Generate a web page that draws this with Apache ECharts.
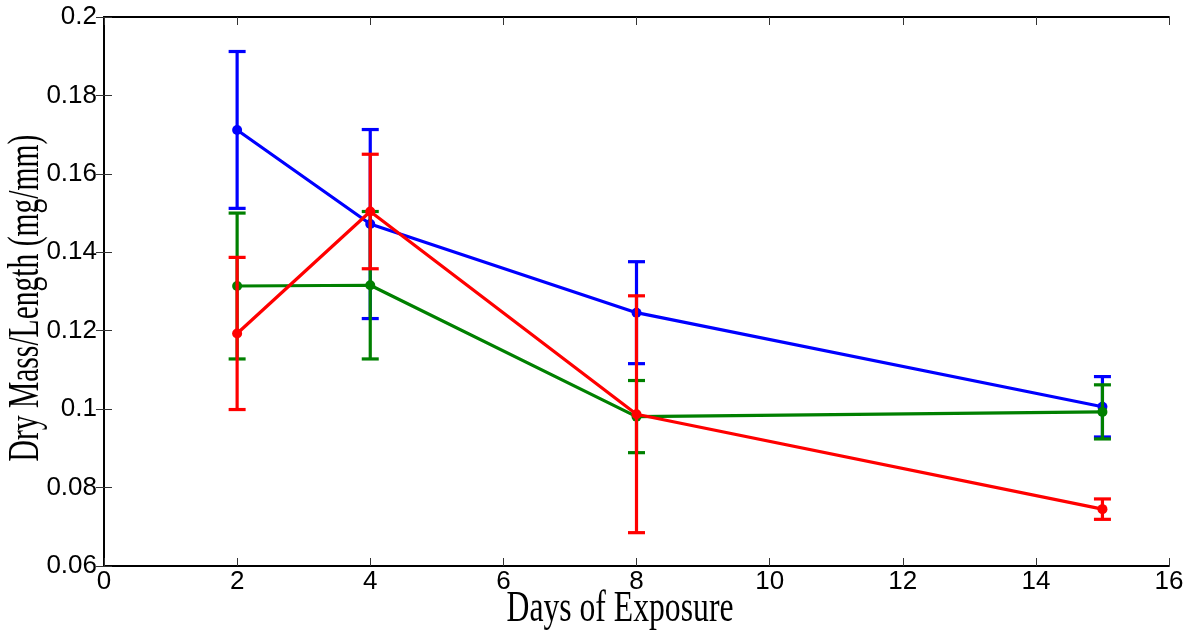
<!DOCTYPE html>
<html>
<head>
<meta charset="utf-8">
<script src="https://cdn.jsdelivr.net/npm/echarts@6/dist/echarts.min.js"></script>
<style>html,body{margin:0;padding:0;background:#fff;}#chart{width:1189px;height:633px;}</style>
</head>
<body>
<div id="chart"></div>
<script>
const days = [2, 4, 8, 15];
const blueMean = [0.1712, 0.1472, 0.1246, 0.1006];
const blueErr  = [0.0200, 0.0241, 0.0130, 0.0077];
const greenMean = [0.1314, 0.1316, 0.0981, 0.0993];
const greenErr  = [0.0186, 0.0188, 0.0092, 0.0069];
const redMean = [0.1193, 0.1504, 0.0987, 0.0745];
const redErr  = [0.0194, 0.0146, 0.0302, 0.0026];
const xTicks = [0, 2, 4, 6, 8, 10, 12, 14, 16];
const yTicks = [0.06, 0.08, 0.1, 0.12, 0.14, 0.16, 0.18, 0.2];
const xTitle = 'Days of Exposure';
const yTitle = 'Dry Mass/Length (mg/mm)';

const colors = {blue: '#0000ff', green: '#008000', red: '#ff0000'};

function lineSeries(name, mean, color) {
  return {
    name: name, type: 'line',
    data: days.map((d, i) => [d, mean[i]]),
    symbol: 'circle', symbolSize: 10,
    lineStyle: {color: color, width: 3.2},
    itemStyle: {color: color},
    emphasis: {disabled: true}
  };
}
function errSeries(name, mean, err, color) {
  return {
    name: name + ' err', type: 'custom',
    data: days.map((d, i) => [d, mean[i] - err[i], mean[i] + err[i]]),
    renderItem: function (params, api) {
      const lo = api.coord([api.value(0), api.value(1)]);
      const hi = api.coord([api.value(0), api.value(2)]);
      const hw = 8.5;
      const st = {stroke: color, lineWidth: 3.2};
      return {type: 'group', children: [
        {type: 'line', shape: {x1: lo[0], y1: lo[1], x2: hi[0], y2: hi[1]}, style: st},
        {type: 'line', shape: {x1: lo[0]-hw, y1: lo[1], x2: lo[0]+hw, y2: lo[1]}, style: st},
        {type: 'line', shape: {x1: hi[0]-hw, y1: hi[1], x2: hi[0]+hw, y2: hi[1]}, style: st}
      ]};
    },
    encode: {x: 0, y: [1, 2]}
  };
}

const series = [];
[['blue', blueMean, blueErr], ['green', greenMean, greenErr], ['red', redMean, redErr]].forEach(([n, m, e], k) => {
  const s1 = errSeries(n, m, e, colors[n]);
  const s2 = lineSeries(n, m, colors[n]);
  s1.z = 3 + k; s2.z = 3 + k;
  series.push(s1, s2);
});

const axisLineStyle = {color: '#000', width: 1.8};
const tickStyle = {show: true, inside: true, length: 8, lineStyle: {color: '#333', width: 1}};
const labelFont = {color: '#000', fontFamily: 'Liberation Sans, Arial', fontSize: 26};
const chart = echarts.init(document.getElementById('chart'), null, {renderer: 'canvas'});
chart.setOption({
  animation: false,
  backgroundColor: '#fff',
  grid: {left: 104, right: 20, top: 17, bottom: 67, containLabel: false},
  xAxis: [{
    type: 'value', min: xTicks[0], max: xTicks[xTicks.length-1], interval: 2,
    axisLine: {show: true, lineStyle: axisLineStyle},
    axisTick: tickStyle,
    axisLabel: Object.assign({margin: 3}, labelFont),
    splitLine: {show: false}
  }, {
    type: 'value', position: 'top', min: xTicks[0], max: xTicks[xTicks.length-1], interval: 2,
    axisLine: {show: true, lineStyle: axisLineStyle},
    axisTick: tickStyle,
    axisLabel: {show: false}, splitLine: {show: false}
  }],
  yAxis: [{
    type: 'value', min: yTicks[0], max: yTicks[yTicks.length-1], interval: 0.02,
    axisLine: {show: true, lineStyle: axisLineStyle},
    axisTick: tickStyle,
    axisLabel: Object.assign({margin: 7, formatter: v => String(parseFloat(v.toFixed(2)))}, labelFont),
    splitLine: {show: false}
  }, {
    type: 'value', position: 'right', min: yTicks[0], max: yTicks[yTicks.length-1], interval: 0.02,
    axisLine: {show: true, lineStyle: axisLineStyle},
    axisTick: tickStyle,
    axisLabel: {show: false}, splitLine: {show: false}
  }],
  graphic: [{
    type: 'text', x: 620, y: 609, scaleX: 0.72,
    style: {text: xTitle, fill: '#000', font: '44px "Liberation Serif", "Times New Roman", serif',
      align: 'center', verticalAlign: 'middle'}
  }, {
    type: 'text', x: 26, y: 298, rotation: Math.PI / 2, scaleX: 0.672,
    style: {text: yTitle, fill: '#000', font: '44px "Liberation Serif", "Times New Roman", serif',
      align: 'center', verticalAlign: 'middle'}
  }],
  series: series
});
</script>
</body>
</html>
